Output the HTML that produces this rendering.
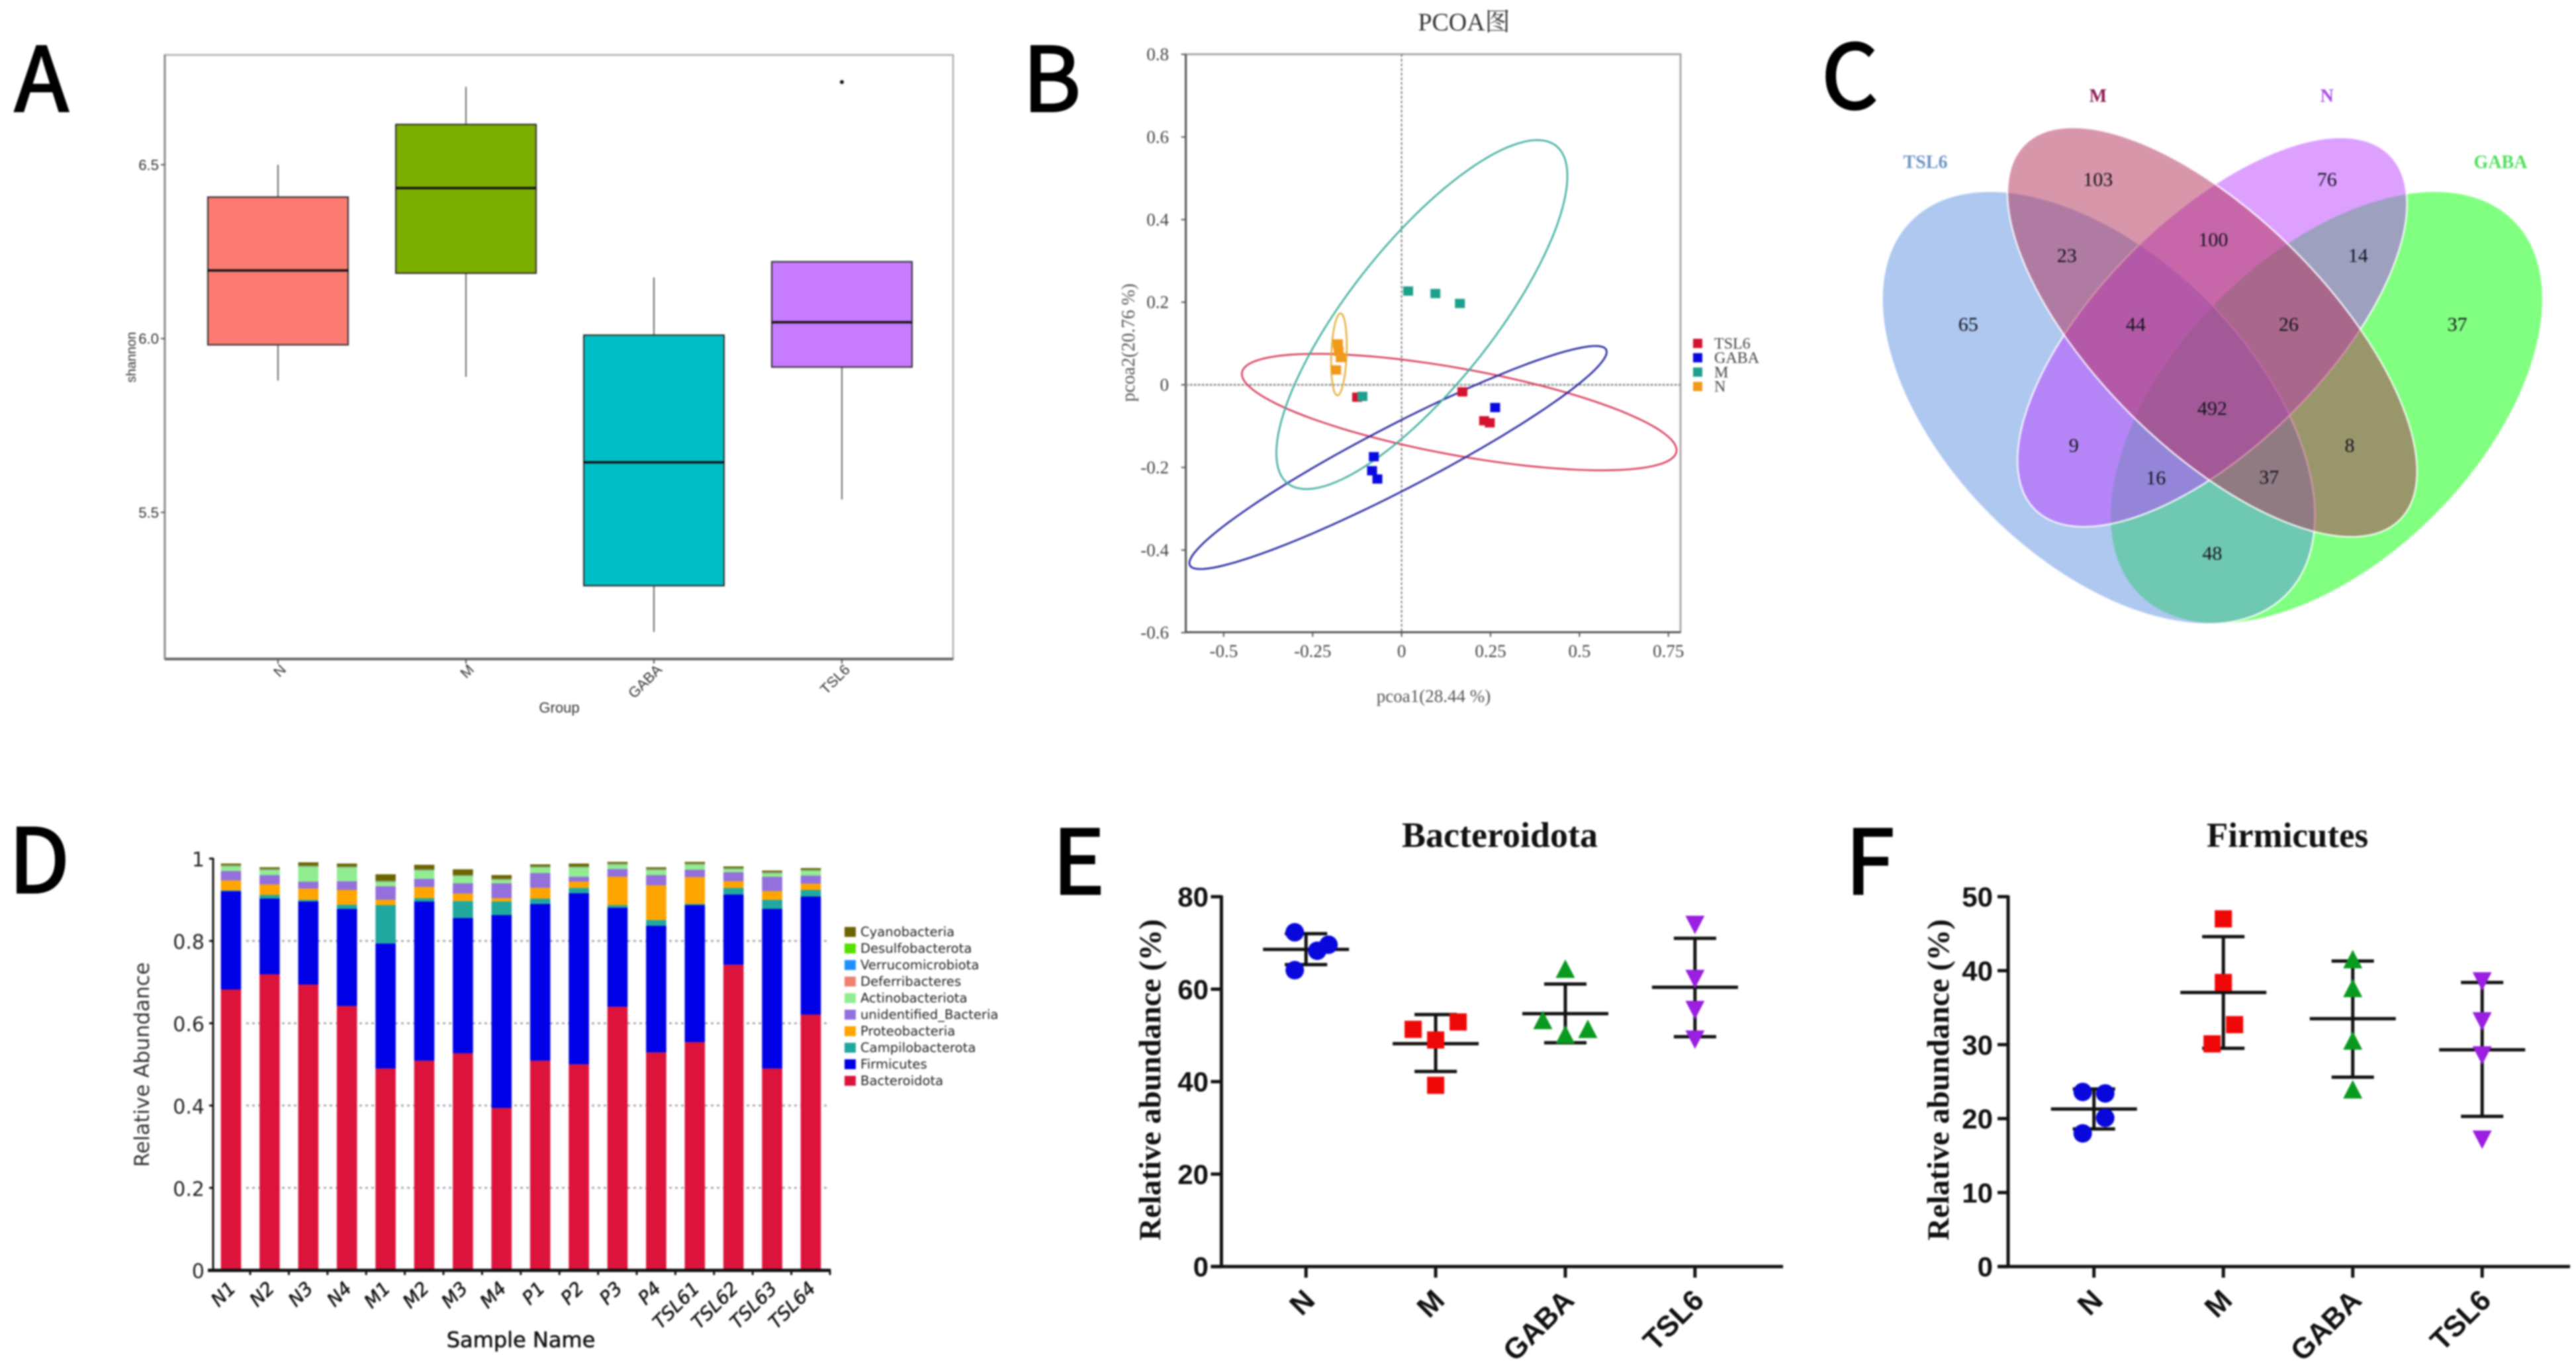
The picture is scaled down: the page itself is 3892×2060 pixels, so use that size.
<!DOCTYPE html>
<html lang="en">
<head>
<meta charset="utf-8">
<title>Microbiome figure panels</title>
<style>
html,body{margin:0;padding:0;background:#fff;width:3892px;height:2060px;overflow:hidden}
svg{display:block;filter:blur(1.2px)}
.letter{font-family:"Noto Sans CJK SC","Liberation Sans",sans-serif;font-size:134px;fill:#000;stroke:#000;stroke-width:3px}
.sans{font-family:"Liberation Sans",sans-serif}
.serif{font-family:"Liberation Serif","Noto Serif CJK SC",serif}
.dejavu{font-family:"DejaVu Sans",sans-serif}
</style>
</head>
<body>
<svg id="fig" xmlns="http://www.w3.org/2000/svg" width="3892" height="2060" viewBox="0 0 3892 2060">
  <rect width="3892" height="2060" fill="#fff"/>
  <text class="letter" x="22" y="168">A</text>
  <text class="letter" x="1545" y="168">B</text>
  <text class="letter" x="2752" y="164">C</text>
  <text class="letter" x="13" y="1349">D</text>
  <text class="letter" x="1590" y="1351">E</text>
  <text class="letter" x="2788" y="1351">F</text>

  <g id="panelA">
    <text class="sans" x="845" y="1077" font-size="22" fill="#333" text-anchor="middle">Group</text>
    <text class="sans" transform="translate(205,540) rotate(-90)" font-size="20" fill="#333" text-anchor="middle">shannon</text>
  </g>

  <g id="panelB">
    <text class="serif" x="2212" y="46" font-size="38" fill="#333" text-anchor="middle">PCOA图</text>
    <text class="serif" x="2166" y="1061" font-size="27" fill="#555" text-anchor="middle">pcoa1(28.44 %)</text>
    <text class="serif" transform="translate(1714,518) rotate(-90)" font-size="28" fill="#555" text-anchor="middle">pcoa2(20.76 %)</text>
  </g>

  <g id="panelC">
    <g stroke="#fff" stroke-opacity="0.85" stroke-width="2.5">
      <ellipse cx="3515" cy="616" rx="400.5" ry="231" transform="rotate(-45 3515 616)" fill="#01ff01" fill-opacity="0.5"/>
      <ellipse cx="3170.6" cy="616" rx="400.5" ry="231" transform="rotate(45 3170.6 616)" fill="#5d91e1" fill-opacity="0.5"/>
      <ellipse cx="3342.4" cy="502" rx="379" ry="171.6" transform="rotate(-45 3342.4 502)" fill="#bb41ff" fill-opacity="0.5"/>
      <ellipse cx="3342.4" cy="502" rx="401" ry="175" transform="rotate(45 3342.4 502)" fill="#b12d55" fill-opacity="0.5"/>
    </g>
    <g class="serif" font-size="30" fill="#14141f" text-anchor="middle">
      <text x="2973.7" y="500">65</text>
      <text x="3169.8" y="281">103</text>
      <text x="3515.7" y="281">76</text>
      <text x="3712.6" y="500">37</text>
      <text x="3122.7" y="396">23</text>
      <text x="3343.9" y="372">100</text>
      <text x="3562.8" y="396">14</text>
      <text x="3226.8" y="500">44</text>
      <text x="3457.9" y="500">26</text>
      <text x="3342.4" y="627">492</text>
      <text x="3133.3" y="683">9</text>
      <text x="3550" y="683">8</text>
      <text x="3257.2" y="732">16</text>
      <text x="3428.3" y="731">37</text>
      <text x="3342.4" y="846">48</text>
    </g>
    <g class="serif" font-size="28" font-weight="bold" text-anchor="middle">
      <text x="3169.8" y="154" fill="#8c1d52">M</text>
      <text x="3515.7" y="154" fill="#a84be8">N</text>
      <text x="2909" y="254" fill="#6f96c6">TSL6</text>
      <text x="3778" y="254" fill="#4fe05a">GABA</text>
    </g>
  </g>

  <g id="panelD">
    <text class="dejavu" x="787" y="2036" font-size="32" fill="#111" stroke="#111" stroke-width="0.6" text-anchor="middle">Sample Name</text>
    <text class="dejavu" transform="translate(225,1609) rotate(-90)" font-size="31" fill="#333" text-anchor="middle">Relative Abundance</text>
  </g>

  <g id="panelE">
    <text class="serif" x="2266" y="1280" font-size="54" font-weight="bold" fill="#111" text-anchor="middle">Bacteroidota</text>
    <text class="serif" transform="translate(1753,1632) rotate(-90)" font-size="47" font-weight="bold" fill="#111" text-anchor="middle">Relative abundance (%)</text>
  </g>

  <g id="panelF">
    <text class="serif" x="3456" y="1280" font-size="53" font-weight="bold" fill="#111" text-anchor="middle">Firmicutes</text>
    <text class="serif" transform="translate(2944,1632) rotate(-90)" font-size="47" font-weight="bold" fill="#111" text-anchor="middle">Relative abundance (%)</text>
  </g>
</svg>

<script>
// ---------- Panel A data ----------
const boxGroups = ['N', 'M', 'GABA', 'TSL6'];
const boxHigh = [6.5, 6.724, 6.176, 6.221];
const boxQ3 = [6.407, 6.616, 6.01, 6.221];
const boxMedian = [6.196, 6.433, 5.644, 6.047];
const boxQ1 = [5.982, 6.188, 5.289, 5.918];
const boxLow = [5.879, 5.89, 5.156, 5.537];
const boxOutliers = [null, null, null, 6.738];
const boxTicks = [5.5, 6.0, 6.5];

// ---------- Panel B data ----------
const pcoaXTicks = [-0.5, -0.25, 0, 0.25, 0.5, 0.75];
const pcoaYTicks = [0.8, 0.6, 0.4, 0.2, 0, -0.2, -0.4, -0.6];
const pcoaSeries = ['TSL6', 'GABA', 'M', 'N'];
const pcoaX = [
  [-0.125, 0.171, 0.232, 0.248],
  [-0.078, -0.083, -0.068, 0.263],
  [-0.11, 0.0185, 0.095, 0.164],
  [-0.179, -0.177, -0.171, -0.184]
];
const pcoaY = [
  [-0.03, -0.017, -0.087, -0.092],
  [-0.174, -0.208, -0.228, -0.055],
  [-0.028, 0.227, 0.221, 0.197],
  [0.099, 0.081, 0.066, 0.036]
];
const ellipseMeanX = [0.162, -0.01, 0.057, -0.176];
const ellipseMeanY = [-0.066, -0.176, 0.17, 0.0736];
const ellipseSpreadX = [0.611, 0.5866, 0.409, 0.022];
const ellipseSpreadY = [0.141, 0.27, 0.4225, 0.0994];
const ellipseCorr = [-0.655, 0.947, 0.794, 0.2];

// ---------- Panel D data ----------
const dSamples = ['N1','N2','N3','N4','M1','M2','M3','M4','P1','P2','P3','P4','TSL61','TSL62','TSL63','TSL64'];
const dBacteroidota = [0.682,0.719,0.694,0.642,0.49,0.509,0.527,0.394,0.509,0.5,0.64,0.529,0.554,0.742,0.49,0.621];
const dFirmicutes = [0.239,0.184,0.202,0.236,0.304,0.387,0.329,0.469,0.381,0.416,0.241,0.308,0.333,0.171,0.388,0.287];
const dCampilobacterota = [0.002,0.009,0.004,0.01,0.093,0.008,0.041,0.033,0.013,0.013,0.006,0.014,0.003,0.016,0.022,0.016];
const dProteobacteria = [0.024,0.025,0.027,0.036,0.013,0.027,0.018,0.008,0.026,0.015,0.069,0.084,0.065,0.016,0.021,0.015];
const dUnidentified = [0.023,0.023,0.017,0.021,0.033,0.02,0.025,0.036,0.036,0.012,0.019,0.025,0.018,0.022,0.035,0.02];
const dActinobacteriota = [0.011,0.012,0.036,0.033,0.01,0.02,0.017,0.008,0.013,0.022,0.01,0.012,0.012,0.007,0.008,0.011];
const dDeferribacteres = [0.001,0.001,0.001,0.001,0.001,0.001,0.001,0.001,0.001,0.001,0.001,0.001,0.001,0.001,0.001,0.001];
const dVerrucomicrobiota = [0.001,0.001,0.001,0.001,0.001,0.001,0.001,0.001,0.001,0.001,0.001,0.001,0.001,0.001,0.001,0.001];
const dDesulfobacterota = [0.001,0.001,0.001,0.001,0.001,0.001,0.001,0.001,0.001,0.001,0.001,0.001,0.001,0.001,0.001,0.001];
const dCyanobacteria = [0.004,0.004,0.008,0.007,0.016,0.011,0.014,0.009,0.005,0.007,0.004,0.004,0.004,0.004,0.004,0.004];
const dSeriesNames = ['Bacteroidota','Firmicutes','Campilobacterota','Proteobacteria','unidentified_Bacteria','Actinobacteriota','Deferribacteres','Verrucomicrobiota','Desulfobacterota','Cyanobacteria'];
const dTicks = [0, 0.2, 0.4, 0.6, 0.8, 1];
const dTickLabels = ['0', '0.2', '0.4', '0.6', '0.8', '1'];

// ---------- Panels E / F data ----------
const scatterGroups = ['N', 'M', 'GABA', 'TSL6'];
const eTicks = [0, 20, 40, 60, 80];
const eMeans = [68.6, 48.2, 54.7, 60.4];
const eUpper = [72, 54.5, 61.1, 71];
const eLower = [65.3, 42.2, 48.4, 49.7];
const ePoints = [[72.3, 64.1, 68.3, 69.6], [51.3, 52.9, 49, 39.2], [52.9, 51, 64, 49.8], [74.3, 62.6, 55.9, 49.5]];
const eSwarm = [[-1, -1, 1, 2], [-2, 2, 0, 0], [-2, 2, 0, 0], [0, 0, 0, 0]];
const fTicks = [0, 10, 20, 30, 40, 50];
const fMeans = [21.3, 37.05, 33.5, 29.3];
const fUpper = [24, 44.6, 41.3, 38.4];
const fLower = [18.6, 29.5, 25.6, 20.3];
const fPoints = [[23.6, 23.4, 20.1, 18], [47, 38.4, 32.7, 30.1], [41.3, 37.4, 30.3, 23.7], [38.8, 33.4, 28.8, 17.4]];
const fSwarm = [[-1, 1, 1, -1], [0, 0, 1, -1], [0, 0, 0, 0], [0, 0, 0, 0]];

// ---------- Helpers ----------
const NS = 'http://www.w3.org/2000/svg';
function el(tag, attrs, parent, text) {
  const n = document.createElementNS(NS, tag);
  for (const k in attrs) n.setAttribute(k, attrs[k]);
  if (text !== undefined) n.textContent = text;
  parent.appendChild(n);
  return n;
}
function line(parent, x1, y1, x2, y2, stroke, width, dash) {
  const attrs = { x1: x1, y1: y1, x2: x2, y2: y2, stroke: stroke, 'stroke-width': width };
  if (dash) attrs['stroke-dasharray'] = dash;
  return el('line', attrs, parent);
}

// ---------- Panel A ----------
(function () {
  const g = document.getElementById('panelA');
  const x = i => 420 + 284 * i;
  const y = v => 249 + (6.5 - v) * 525.4;
  const fills = ['#fb7a71', '#7cae00', '#00bfc4', '#c77cff'];
  const bw = 212;
  const frame = el('rect', { x: 249, y: 83, width: 1191, height: 913, fill: 'none', stroke: '#b8b8b8', 'stroke-width': 3 }, g);
  
  
  const bottom = line(g, 249, 996, 1440, 996, '#666', 4);
  
  
  const left = line(g, 249, 83, 249, 996, '#888', 3);
  
  
  boxTicks.forEach(t => {
    const tick = line(g, 243, y(t), 249, y(t), '#555', 2);
    
    
    const lab = el('text', { x: 240, y: y(t) + 8, 'font-size': 22, fill: '#333', 'text-anchor': 'end', class: 'sans' }, g, t.toFixed(1));
    
    
  });
  boxGroups.forEach((name, i) => {
    const cx = x(i);
    const whisker = line(g, cx, y(boxHigh[i]), cx, y(boxLow[i]), '#666', 2);
    
    
    const box = el('rect', { x: cx - bw / 2, y: y(boxQ3[i]), width: bw, height: y(boxQ1[i]) - y(boxQ3[i]), fill: fills[i], stroke: '#2a2a2a', 'stroke-width': 2 }, g);
    
    
    const med = line(g, cx - bw / 2, y(boxMedian[i]), cx + bw / 2, y(boxMedian[i]), '#111', 3.5);
    
    
    if (boxOutliers[i] !== null) {
      const o = el('circle', { cx: cx, cy: y(boxOutliers[i]), r: 3, fill: '#111' }, g);
      
      
    }
    const tick = line(g, cx, 996, cx, 1003, '#555', 2);
    
    
    const lab = el('text', { transform: 'translate(' + (cx + 8) + ',1008) rotate(-45)', dy: '.35em', 'font-size': 22, fill: '#333', 'text-anchor': 'end', class: 'sans' }, g, name);
    
    
  });
})();

// ---------- Panel B ----------
(function () {
  const g = document.getElementById('panelB');
  const x = v => 2117.6 + 537.5 * v;
  const y = v => 581.6 - 624.3 * v;
  const colors = ['#d3142e', '#0a0ae0', '#1fa08c', '#f09a1a'];
  const ringColors = ['#d83a5a', '#20209c', '#3fae9e', '#e6ae3a'];
  const L = 1791.6, R = 2539, T = 82, B = 955.5;
  const frame = el('rect', { x: L, y: T, width: R - L, height: B - T, fill: 'none', stroke: '#a8a8a8', 'stroke-width': 3 }, g);
  
  
  const ax = line(g, L, B, R, B, '#555', 3);
  
  
  const ay = line(g, L, T, L, B, '#555', 3);
  
  
  const zx = line(g, x(0), T, x(0), B, '#777', 2, '4 3');
  
  
  const zy = line(g, L, y(0), R, y(0), '#999', 3, '4 2');
  
  
  pcoaXTicks.forEach(t => {
    const tick = line(g, x(t), B, x(t), B + 7, '#555', 2);
    
    
    const lab = el('text', { x: x(t), y: 993, 'font-size': 27, fill: '#444', 'text-anchor': 'middle', class: 'serif' }, g, String(t));
    
    
  });
  pcoaYTicks.forEach(t => {
    const tick = line(g, L - 7, y(t), L, y(t), '#555', 2);
    
    
    const lab = el('text', { x: 1766, y: y(t) + 9, 'font-size': 27, fill: '#444', 'text-anchor': 'end', class: 'serif' }, g, String(t));
    
    
  });
  pcoaSeries.forEach((name, s) => {
    let d = '';
    const rho = ellipseCorr[s];
    for (let k = 0; k <= 120; k++) {
      const t = k / 120 * 2 * Math.PI;
      const dx = ellipseMeanX[s] + ellipseSpreadX[s] * Math.cos(t);
      const dy = ellipseMeanY[s] + ellipseSpreadY[s] * (rho * Math.cos(t) + Math.sqrt(1 - rho * rho) * Math.sin(t));
      d += (k ? 'L' : 'M') + x(dx).toFixed(1) + ' ' + y(dy).toFixed(1);
    }
    const p = el('path', { d: d + 'Z', fill: 'none', stroke: ringColors[s], 'stroke-width': s === 3 ? 2.5 : 2.6 }, g);
    
    
  });
  pcoaSeries.forEach((name, s) => {
    pcoaX[s].forEach((vx, i) => {
      const m = el('rect', { x: x(vx) - 7.5, y: y(pcoaY[s][i]) - 7, width: 15, height: 14, fill: colors[s] }, g);
      
      
    });
    const sw = el('rect', { x: 2558, y: 512 + s * 21.7, width: 14, height: 14, fill: colors[s] }, g);
    
    
    const lab = el('text', { x: 2590, y: 527 + s * 21.7, 'font-size': 24, fill: '#444', class: 'serif' }, g, name);
    
    
  });
})();

// ---------- Panel D ----------
(function () {
  const g = document.getElementById('panelD');
  const x = i => 349 + 58.4 * i;
  const y = v => 1919.7 - 622 * v;
  const barW = 30.6;
  const series = [dBacteroidota, dFirmicutes, dCampilobacterota, dProteobacteria, dUnidentified, dActinobacteriota, dDeferribacteres, dVerrucomicrobiota, dDesulfobacterota, dCyanobacteria];
  const colors = ['#dc143c', '#0000e6', '#20a89e', '#ffa500', '#9370db', '#90ee90', '#f08070', '#1e90ff', '#55e000', '#6b6400'];
  dTicks.forEach((t, i) => {
    if (t > 0 && t < 1) {
      const grid = line(g, 372, y(t), 1250, y(t), '#aaa', 3, '4 5');
      
      
    }
    const tick = line(g, 316, y(t), 323, y(t), '#111', 3);
    
    
    const lab = el('text', { x: 309, y: y(t) + 12, 'font-size': 30, fill: '#222', 'text-anchor': 'end', class: 'dejavu' }, g, dTickLabels[i]);
    
    
  });
  dSamples.forEach((name, i) => {
    let cum = 0;
    series.forEach((vals, s) => {
      const top = cum + vals[i];
      const r = el('rect', { x: x(i) - barW / 2, y: y(top), width: barW, height: y(cum) - y(top), fill: colors[s] }, g);
      
      
      cum = top;
    });
    const tick = line(g, x(i) + 29, 1919, x(i) + 29, 1927, '#111', 3);
    
    
    const lab = el('text', { transform: 'translate(' + (x(i) + 2) + ',1942) rotate(-45)', dy: '.35em', 'font-size': 28, 'font-style': 'italic', fill: '#111', stroke: '#111', 'stroke-width': 0.5, 'text-anchor': 'end', class: 'dejavu' }, g, name);
    
    
  });
  const ay = line(g, 322, 1297, 322, 1920, '#111', 3);
  
  
  const ax = line(g, 314, 1920, 1255, 1920, '#111', 5);
  
  
  dSeriesNames.slice().reverse().forEach((name, i) => {
    const colour = colors[dSeriesNames.indexOf(name)];
    const sw = el('rect', { x: 1276, y: 1401 + i * 25, width: 17, height: 15, fill: colour }, g);
    
    
    const lab = el('text', { x: 1300, y: 1415 + i * 25, 'font-size': 19.6, fill: '#222', class: 'dejavu' }, g, name);
    
    
  });
})();

// ---------- Panels E, F ----------
function drawScatter(gid, axisX, rightX, firstX, stepX, maxV, ticks, means, upper, lower, points, swarm, labelRight) {
  const g = document.getElementById(gid);
  const x = i => firstX + stepX * i;
  const y = v => 1914.2 - (1914.2 - 1355.2) * v / maxV;
  const colors = ['#0808dc', '#ee0808', '#0a9a20', '#9a1fe0'];
  const ay = line(g, axisX, y(maxV) - 2, axisX, 1916, '#111', 5);
  
  
  const ax = line(g, axisX - 16, 1914.2, rightX, 1914.2, '#111', 5);
  
  
  ticks.forEach(t => {
    const tick = line(g, axisX - 16, y(t), axisX, y(t), '#111', 5);
    
    
    const lab = el('text', { x: labelRight, y: y(t) + 15, 'font-size': 42, 'font-weight': 'bold', fill: '#111', 'text-anchor': 'end', class: 'sans' }, g, String(t));
    
    
  });
  scatterGroups.forEach((name, i) => {
    const cx = x(i);
    const tick = line(g, cx, 1914, cx, 1931, '#111', 5);
    
    
    const lab = el('text', { transform: 'translate(' + (cx + 5) + ',1957) rotate(-45)', dy: '.35em', 'font-size': 44, 'font-weight': 'bold', fill: '#111', 'text-anchor': 'end', class: 'sans' }, g, name);
    
    
    const stem = line(g, cx, y(upper[i]), cx, y(lower[i]), '#111', 5);
    
    
    const capU = line(g, cx - 32, y(upper[i]), cx + 32, y(upper[i]), '#111', 5);
    
    
    const capL = line(g, cx - 32, y(lower[i]), cx + 32, y(lower[i]), '#111', 5);
    
    
    const mean = line(g, cx - 65, y(means[i]), cx + 65, y(means[i]), '#111', 5);
    
    
    points[i].forEach((v, k) => {
      const px = cx + swarm[i][k] * 17;
      const py = y(v);
      let m;
      if (i === 0) {
        m = el('circle', { cx: px, cy: py, r: 14, fill: colors[i] }, g);
      } else if (i === 1) {
        m = el('rect', { x: px - 13, y: py - 13, width: 26, height: 26, fill: colors[i] }, g);
      } else if (i === 2) {
        m = el('polygon', { points: [px, py - 17, px + 14.5, py + 11, px - 14.5, py + 11].join(' '), fill: colors[i] }, g);
      } else {
        m = el('polygon', { points: [px, py + 17, px + 14.5, py - 11, px - 14.5, py - 11].join(' '), fill: colors[i] }, g);
      }
      
      
    });
  });
}
drawScatter('panelE', 1845.4, 2694, 1973.2, 195.9, 80, eTicks, eMeans, eUpper, eLower, ePoints, eSwarm, 1826);
drawScatter('panelF', 3034, 3883, 3163.7, 195.5, 50, fTicks, fMeans, fUpper, fLower, fPoints, fSwarm, 3011);
</script>
</body>
</html>
